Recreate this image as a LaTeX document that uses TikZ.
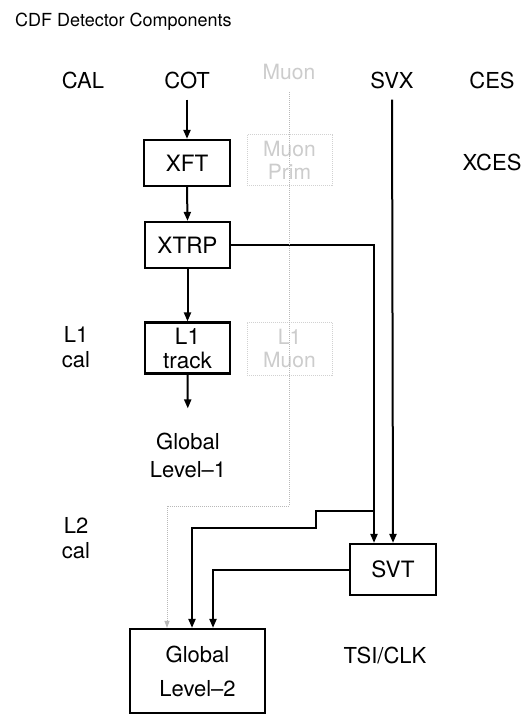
\documentclass[tikz,border=0pt]{standalone}
\usepackage{fontspec}
\setmainfont{TeX Gyre Heros}
\usetikzlibrary{arrows.meta}
\begin{document}
\begin{tikzpicture}[x=1pt,y=-1pt,
  lbl/.style={font=\fontsize{22}{25}\selectfont, inner sep=0pt, align=center},
  blk/.style={draw, line width=2.2pt, font=\fontsize{22.5}{24}\selectfont, inner sep=0pt, align=center},
  faintbox/.style={draw=black!18, densely dotted, line width=1pt, inner sep=0pt, align=center,
                   text=black!20, font=\fontsize{21}{23}\selectfont},
  fainttext/.style={text=black!20, font=\fontsize{21}{23}\selectfont, align=center, inner sep=0pt},
  faintline/.style={draw=black!28, densely dotted, line width=1pt, -{Triangle[length=7pt,width=5pt]}},
  arr/.style={line width=2pt, -{Triangle[length=9pt,width=7pt]}}]
\useasboundingbox[fill=white] (0,0) rectangle (530,714);

% title and detector components
\node[lbl, anchor=west, font=\fontsize{18}{24}\selectfont] (title) at (15,22) {CDF Detector Components};
\node[lbl] (CAL) at (83,80) {CAL};
\node[lbl] (COT) at (187,80) {COT};
\node[fainttext] (MU) at (289,72) {Muon};
\node[lbl] (SVX) at (392,80) {SVX};
\node[lbl] (CES) at (492,80) {CES};
\node[lbl] (XCES) at (492,162) {XCES};

% faint muon chain
\node[faintbox, minimum width=85pt, minimum height=50pt] (MUP) at (289.5,160) {Muon\\Prim};
\node[faintbox, minimum width=85pt, minimum height=53pt] (L1MU) at (289.5,348.5) {L1\\Muon};
\coordinate (mudown) at (289,506);
\coordinate (muleft) at (167,506);

% boxes
\node[blk, minimum width=86pt, minimum height=46pt] (XFT) at (187,163) {XFT};
\node[blk, minimum width=85pt, minimum height=46pt] (XTRP) at (187.5,245) {XTRP};
\node[blk, minimum width=85pt, minimum height=51pt] (L1T) at (187.5,348) {L1\\track};
\node[blk, minimum width=86pt, minimum height=51pt] (SVT) at (393,569.5) {SVT};
\node[blk, minimum width=135pt, minimum height=84pt, font=\fontsize{22}{34}\selectfont] (GL2) at (197.5,671) {Global\\Level--2};

% labels
\node[lbl] (L1cal) at (76,347) {L1\\cal};
\node[lbl, font=\fontsize{22}{28}\selectfont] (GL1) at (188,455) {Global\\Level--1};
\node[lbl] (L2cal) at (76,538) {L2\\cal};
\node[lbl] (TSI) at (385,655) {TSI/CLK};

% connectors
\draw[arr, shorten <=11pt] (COT.south) -- (XFT.north);
\draw[arr] (XFT.south) -- (XTRP.north);
\draw[arr] (XTRP.south) -- (L1T.north);
\draw[arr, shorten >=24pt] (L1T.south) -- (GL1.north);
\draw[arr, shorten <=11pt] (SVX.south) -- (SVT.north);
\draw[arr] (XTRP.east) -| ([xshift=-19pt]SVT.north);
\coordinate (br) at (374,511);
\draw[arr] (br) -- (316,511) -- (316,528) -- ([xshift=-5.5pt]GL2.north |- 0,528) -- ([xshift=-5.5pt]GL2.north);
\draw[arr] (SVT.west) -| ([xshift=15.5pt]GL2.north);
\draw[faintline] (MU.south) ++(0,12) -- (mudown) -- (muleft) -- ([xshift=-30.5pt]GL2.north);
\end{tikzpicture}
\end{document}
